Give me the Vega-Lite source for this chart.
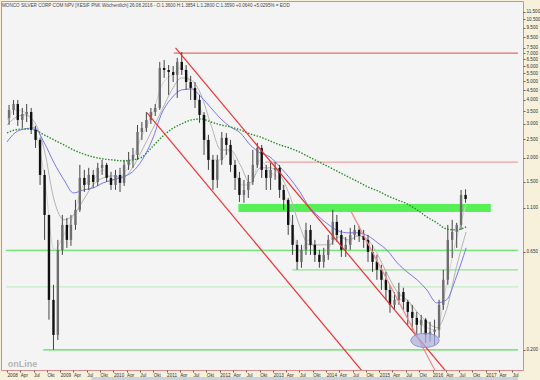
{
  "$schema": "https://vega.github.io/schema/vega-lite/v6.json",
  "width": 522,
  "height": 369,
  "autosize": {"type": "none"},
  "padding": {"left": 1, "top": 1, "right": 17, "bottom": 10},
  "background": "#f7f0da",
  "config": {
    "view": {"fill": "#f4f4f4", "stroke": "#d98a8a", "strokeWidth": 1},
    "font": "Liberation Sans",
    "axis": {"grid": false, "domain": false, "zindex": 1, "labelFont": "Liberation Sans", "labelFontSize": 4.6, "labelColor": "#333", "tickColor": "#666", "tickSize": 2, "labelPadding": 0.5, "titleFont": "Liberation Sans"}
  },
  "title": {"text": "MONCO SILVER CORP COM NPV [XESIF PNK Wöchentlich] 26.08.2016 - O:1.3600 H:1.3854 L:1.2800 C:1.3590 +0.0640 +5.0295% = EOD", "anchor": "start", "frame": "group", "orient": "top", "offset": -6.5, "fontSize": 4.6, "fontWeight": "normal", "color": "#444", "font": "Liberation Sans", "dx": 1},
  "datasets": {
    "band": [{"d1": "2012-05-08", "d2": "2017-02-04", "p1": 1.15, "p2": 1.045}],
    "strip": [{"d1": "2009-08-02", "d2": "2017-08-10", "p1": 0.1445, "p2": 0.1381}],
    "hl": [
      {"k": "r1", "d1": "2011-02-19", "d2": "2017-08-10", "p": 7.02},
      {"k": "r2", "d1": "2012-11-07", "d2": "2017-08-10", "p": 1.90},
      {"k": "g1", "d1": "2007-12-25", "d2": "2017-08-10", "p": 0.66},
      {"k": "g2", "d1": "2013-05-13", "d2": "2017-08-10", "p": 0.522},
      {"k": "g3", "d1": "2007-12-25", "d2": "2017-08-10", "p": 0.425},
      {"k": "g4", "d1": "2008-09-06", "d2": "2017-08-10", "p": 0.2}
    ],
    "tl": [
      {"k": "up", "d": "2011-03-03", "p": 7.46},
      {"k": "up", "d": "2016-06-19", "p": 0.1315},
      {"k": "lo", "d": "2010-08-20", "p": 3.424},
      {"k": "lo", "d": "2014-11-22", "p": 0.1315},
      {"k": "th", "d": "2014-06-22", "p": 1.045},
      {"k": "th", "d": "2016-03-10", "p": 0.1315}
    ],
    "ma": [
      {"d": "2008-01-01", "b": 2.418, "g": 2.694, "s": 2.964, "f": 3.147},
      {"d": "2008-02-24", "b": 2.694, "g": 2.792, "s": 3.225, "f": 3.548},
      {"d": "2008-04-30", "b": 2.825, "g": 2.825, "s": 3.342, "f": 3.46},
      {"d": "2008-07-07", "b": 2.86, "g": 2.792, "s": 3.07, "f": 2.86},
      {"d": "2008-09-13", "b": 2.39, "g": 2.63, "s": 2.197, "f": 1.628},
      {"d": "2008-11-19", "b": 1.881, "g": 2.477, "s": 1.207, "f": 0.663},
      {"d": "2009-01-26", "b": 1.534, "g": 2.333, "s": 0.95, "f": 0.793},
      {"d": "2009-04-02", "b": 1.312, "g": 2.197, "s": 1.008, "f": 1.008},
      {"d": "2009-06-09", "b": 1.36, "g": 2.094, "s": 1.207, "f": 1.444},
      {"d": "2009-08-15", "b": 1.393, "g": 2.019, "s": 1.444, "f": 1.534},
      {"d": "2009-10-22", "b": 1.48, "g": 1.973, "s": 1.571, "f": 1.729},
      {"d": "2009-12-28", "b": 1.534, "g": 1.949, "s": 1.609, "f": 1.534},
      {"d": "2010-03-04", "b": 1.589, "g": 1.926, "s": 1.571, "f": 1.628},
      {"d": "2010-05-11", "b": 1.688, "g": 1.949, "s": 1.772, "f": 1.949},
      {"d": "2010-07-17", "b": 1.949, "g": 2.019, "s": 2.197, "f": 2.63},
      {"d": "2010-09-24", "b": 2.477, "g": 2.277, "s": 2.792, "f": 3.342},
      {"d": "2010-11-30", "b": 3.424, "g": 2.567, "s": 3.548, "f": 4.79},
      {"d": "2011-02-06", "b": 4.1, "g": 2.825, "s": 4.51, "f": 5.4},
      {"d": "2011-04-13", "b": 4.51, "g": 3.0, "s": 5.21, "f": 5.87},
      {"d": "2011-06-19", "b": 4.565, "g": 3.147, "s": 5.08, "f": 4.79},
      {"d": "2011-08-26", "b": 4.148, "g": 3.185, "s": 4.25, "f": 3.548},
      {"d": "2011-11-02", "b": 3.635, "g": 3.07, "s": 2.964, "f": 1.949},
      {"d": "2012-01-09", "b": 3.185, "g": 2.964, "s": 2.197, "f": 1.949},
      {"d": "2012-03-15", "b": 2.893, "g": 2.893, "s": 2.197, "f": 2.197},
      {"d": "2012-05-21", "b": 2.694, "g": 2.792, "s": 1.836, "f": 1.444},
      {"d": "2012-07-28", "b": 2.333, "g": 2.662, "s": 1.48, "f": 1.444},
      {"d": "2012-10-04", "b": 2.12, "g": 2.567, "s": 1.772, "f": 1.949},
      {"d": "2012-12-11", "b": 2.019, "g": 2.447, "s": 1.772, "f": 1.688},
      {"d": "2013-02-17", "b": 1.792, "g": 2.333, "s": 1.628, "f": 1.534},
      {"d": "2013-04-24", "b": 1.571, "g": 2.25, "s": 1.281, "f": 1.008},
      {"d": "2013-06-30", "b": 1.344, "g": 2.144, "s": 0.894, "f": 0.647},
      {"d": "2013-09-06", "b": 1.11, "g": 2.019, "s": 0.704, "f": 0.747},
      {"d": "2013-11-13", "b": 0.984, "g": 1.902, "s": 0.704, "f": 0.624},
      {"d": "2014-01-19", "b": 0.894, "g": 1.792, "s": 0.704, "f": 0.679},
      {"d": "2014-03-26", "b": 0.832, "g": 1.688, "s": 0.774, "f": 0.822},
      {"d": "2014-06-02", "b": 0.813, "g": 1.589, "s": 0.747, "f": 0.729},
      {"d": "2014-08-09", "b": 0.813, "g": 1.497, "s": 0.784, "f": 0.793},
      {"d": "2014-10-15", "b": 0.784, "g": 1.409, "s": 0.747, "f": 0.704},
      {"d": "2014-12-21", "b": 0.721, "g": 1.344, "s": 0.624, "f": 0.554},
      {"d": "2015-02-27", "b": 0.655, "g": 1.266, "s": 0.491, "f": 0.41},
      {"d": "2015-05-04", "b": 0.567, "g": 1.207, "s": 0.4, "f": 0.364},
      {"d": "2015-07-10", "b": 0.509, "g": 1.151, "s": 0.364, "f": 0.364},
      {"d": "2015-09-17", "b": 0.463, "g": 1.071, "s": 0.315, "f": 0.287},
      {"d": "2015-11-23", "b": 0.41, "g": 0.984, "s": 0.28, "f": 0.261},
      {"d": "2016-01-30", "b": 0.351, "g": 0.917, "s": 0.261, "f": 0.254},
      {"d": "2016-04-06", "b": 0.364, "g": 0.852, "s": 0.323, "f": 0.436},
      {"d": "2016-06-12", "b": 0.479, "g": 0.842, "s": 0.535, "f": 0.747},
      {"d": "2016-08-19", "b": 0.679, "g": 0.873, "s": 0.822, "f": 1.137}
    ],
    "cd": [
      {"d": "2008-01-15", "o": 3.225, "h": 3.767, "l": 2.964, "c": 3.548},
      {"d": "2008-02-15", "o": 3.548, "h": 4.0, "l": 3.342, "c": 3.81},
      {"d": "2008-03-15", "o": 3.81, "h": 4.0, "l": 2.93, "c": 3.147},
      {"d": "2008-04-15", "o": 3.147, "h": 3.635, "l": 2.86, "c": 3.38},
      {"d": "2008-05-15", "o": 3.38, "h": 3.81, "l": 3.07, "c": 3.46},
      {"d": "2008-06-15", "o": 3.46, "h": 3.635, "l": 2.66, "c": 2.792},
      {"d": "2008-07-15", "o": 2.792, "h": 2.93, "l": 2.25, "c": 2.477},
      {"d": "2008-08-15", "o": 2.477, "h": 2.54, "l": 1.444, "c": 1.628},
      {"d": "2008-09-15", "o": 1.628, "h": 1.729, "l": 0.747, "c": 1.008},
      {"d": "2008-10-15", "o": 1.008, "h": 1.008, "l": 0.287, "c": 0.364},
      {"d": "2008-11-15", "o": 0.364, "h": 0.436, "l": 0.2, "c": 0.239},
      {"d": "2008-12-15", "o": 0.239, "h": 0.747, "l": 0.225, "c": 0.663},
      {"d": "2009-01-15", "o": 0.663, "h": 1.008, "l": 0.624, "c": 0.894},
      {"d": "2009-02-15", "o": 0.894, "h": 0.973, "l": 0.679, "c": 0.747},
      {"d": "2009-03-15", "o": 0.747, "h": 1.008, "l": 0.696, "c": 0.894},
      {"d": "2009-04-15", "o": 0.894, "h": 1.207, "l": 0.842, "c": 1.071},
      {"d": "2009-05-15", "o": 1.071, "h": 1.836, "l": 1.045, "c": 1.571},
      {"d": "2009-06-15", "o": 1.571, "h": 1.729, "l": 1.327, "c": 1.444},
      {"d": "2009-07-15", "o": 1.444, "h": 1.772, "l": 1.36, "c": 1.628},
      {"d": "2009-08-15", "o": 1.628, "h": 1.729, "l": 1.393, "c": 1.497},
      {"d": "2009-09-15", "o": 1.497, "h": 1.881, "l": 1.427, "c": 1.772},
      {"d": "2009-10-15", "o": 1.772, "h": 1.949, "l": 1.628, "c": 1.836},
      {"d": "2009-11-15", "o": 1.836, "h": 1.881, "l": 1.497, "c": 1.571},
      {"d": "2009-12-15", "o": 1.571, "h": 1.688, "l": 1.36, "c": 1.444},
      {"d": "2010-01-15", "o": 1.444, "h": 1.729, "l": 1.36, "c": 1.628},
      {"d": "2010-02-15", "o": 1.628, "h": 1.772, "l": 1.327, "c": 1.48},
      {"d": "2010-03-15", "o": 1.48, "h": 1.949, "l": 1.427, "c": 1.836},
      {"d": "2010-04-15", "o": 1.836, "h": 2.144, "l": 1.729, "c": 1.949},
      {"d": "2010-05-15", "o": 1.949, "h": 2.25, "l": 1.772, "c": 2.069},
      {"d": "2010-06-15", "o": 2.069, "h": 2.964, "l": 1.949, "c": 2.725},
      {"d": "2010-07-15", "o": 2.725, "h": 3.07, "l": 2.477, "c": 2.86},
      {"d": "2010-08-15", "o": 2.86, "h": 3.46, "l": 2.725, "c": 3.147},
      {"d": "2010-09-15", "o": 3.147, "h": 3.635, "l": 3.0, "c": 3.46},
      {"d": "2010-10-15", "o": 3.46, "h": 3.81, "l": 3.3, "c": 3.635},
      {"d": "2010-11-15", "o": 3.635, "h": 6.31, "l": 3.548, "c": 5.87},
      {"d": "2010-12-15", "o": 5.87, "h": 6.46, "l": 5.21, "c": 5.73},
      {"d": "2011-01-15", "o": 5.73, "h": 6.08, "l": 4.25, "c": 5.59},
      {"d": "2011-02-15", "o": 5.59, "h": 6.01, "l": 4.96, "c": 5.4},
      {"d": "2011-03-15", "o": 5.4, "h": 6.62, "l": 4.1, "c": 6.31},
      {"d": "2011-04-15", "o": 6.31, "h": 7.11, "l": 5.4, "c": 5.73},
      {"d": "2011-05-15", "o": 5.73, "h": 6.08, "l": 4.51, "c": 4.96},
      {"d": "2011-06-15", "o": 4.96, "h": 5.34, "l": 4.0, "c": 4.62},
      {"d": "2011-07-15", "o": 4.62, "h": 4.96, "l": 3.635, "c": 4.0},
      {"d": "2011-08-15", "o": 4.0, "h": 4.25, "l": 3.04, "c": 3.342},
      {"d": "2011-09-15", "o": 3.342, "h": 3.46, "l": 2.069, "c": 2.477},
      {"d": "2011-10-15", "o": 2.477, "h": 2.63, "l": 1.729, "c": 1.949},
      {"d": "2011-11-15", "o": 1.949, "h": 2.069, "l": 1.36, "c": 1.534},
      {"d": "2011-12-15", "o": 1.534, "h": 2.069, "l": 1.393, "c": 1.949},
      {"d": "2012-01-15", "o": 1.949, "h": 2.725, "l": 1.836, "c": 2.54},
      {"d": "2012-02-15", "o": 2.54, "h": 2.69, "l": 2.069, "c": 2.333},
      {"d": "2012-03-15", "o": 2.333, "h": 2.477, "l": 1.688, "c": 1.836},
      {"d": "2012-04-15", "o": 1.836, "h": 1.949, "l": 1.36, "c": 1.571},
      {"d": "2012-05-15", "o": 1.571, "h": 1.688, "l": 1.178, "c": 1.281},
      {"d": "2012-06-15", "o": 1.281, "h": 1.534, "l": 1.165, "c": 1.36},
      {"d": "2012-07-15", "o": 1.36, "h": 1.628, "l": 1.236, "c": 1.497},
      {"d": "2012-08-15", "o": 1.497, "h": 2.197, "l": 1.444, "c": 1.836},
      {"d": "2012-09-15", "o": 1.836, "h": 2.39, "l": 1.772, "c": 2.25},
      {"d": "2012-10-15", "o": 2.25, "h": 2.333, "l": 1.571, "c": 1.729},
      {"d": "2012-11-15", "o": 1.729, "h": 1.836, "l": 1.36, "c": 1.571},
      {"d": "2012-12-15", "o": 1.571, "h": 1.881, "l": 1.36, "c": 1.729},
      {"d": "2013-01-15", "o": 1.729, "h": 1.902, "l": 1.534, "c": 1.772},
      {"d": "2013-02-15", "o": 1.772, "h": 1.836, "l": 1.236, "c": 1.36},
      {"d": "2013-03-15", "o": 1.36, "h": 1.444, "l": 1.071, "c": 1.207},
      {"d": "2013-04-15", "o": 1.207, "h": 1.236, "l": 0.793, "c": 0.894},
      {"d": "2013-05-15", "o": 0.894, "h": 1.008, "l": 0.624, "c": 0.704},
      {"d": "2013-06-15", "o": 0.704, "h": 0.747, "l": 0.522, "c": 0.574},
      {"d": "2013-07-15", "o": 0.574, "h": 0.704, "l": 0.535, "c": 0.663},
      {"d": "2013-08-15", "o": 0.663, "h": 0.917, "l": 0.624, "c": 0.842},
      {"d": "2013-09-15", "o": 0.842, "h": 0.894, "l": 0.624, "c": 0.704},
      {"d": "2013-10-15", "o": 0.704, "h": 0.747, "l": 0.574, "c": 0.624},
      {"d": "2013-11-15", "o": 0.624, "h": 0.663, "l": 0.535, "c": 0.574},
      {"d": "2013-12-15", "o": 0.574, "h": 0.679, "l": 0.535, "c": 0.624},
      {"d": "2014-01-15", "o": 0.624, "h": 0.793, "l": 0.588, "c": 0.747},
      {"d": "2014-02-15", "o": 0.747, "h": 1.071, "l": 0.704, "c": 0.927},
      {"d": "2014-03-15", "o": 0.927, "h": 1.008, "l": 0.729, "c": 0.793},
      {"d": "2014-04-15", "o": 0.793, "h": 0.842, "l": 0.609, "c": 0.663},
      {"d": "2014-05-15", "o": 0.663, "h": 0.774, "l": 0.609, "c": 0.704},
      {"d": "2014-06-15", "o": 0.704, "h": 0.863, "l": 0.663, "c": 0.793},
      {"d": "2014-07-15", "o": 0.793, "h": 0.894, "l": 0.747, "c": 0.842},
      {"d": "2014-08-15", "o": 0.842, "h": 0.883, "l": 0.729, "c": 0.784},
      {"d": "2014-09-15", "o": 0.784, "h": 0.842, "l": 0.679, "c": 0.747},
      {"d": "2014-10-15", "o": 0.747, "h": 0.793, "l": 0.574, "c": 0.647},
      {"d": "2014-11-15", "o": 0.647, "h": 0.704, "l": 0.509, "c": 0.574},
      {"d": "2014-12-15", "o": 0.574, "h": 0.624, "l": 0.463, "c": 0.522},
      {"d": "2015-01-15", "o": 0.522, "h": 0.554, "l": 0.41, "c": 0.463},
      {"d": "2015-02-15", "o": 0.463, "h": 0.509, "l": 0.364, "c": 0.41},
      {"d": "2015-03-15", "o": 0.41, "h": 0.436, "l": 0.312, "c": 0.343},
      {"d": "2015-04-15", "o": 0.343, "h": 0.4, "l": 0.323, "c": 0.364},
      {"d": "2015-05-15", "o": 0.364, "h": 0.447, "l": 0.343, "c": 0.4},
      {"d": "2015-06-15", "o": 0.4, "h": 0.421, "l": 0.323, "c": 0.355},
      {"d": "2015-07-15", "o": 0.355, "h": 0.364, "l": 0.27, "c": 0.315},
      {"d": "2015-08-15", "o": 0.315, "h": 0.343, "l": 0.254, "c": 0.293},
      {"d": "2015-09-15", "o": 0.293, "h": 0.315, "l": 0.233, "c": 0.27},
      {"d": "2015-10-15", "o": 0.27, "h": 0.304, "l": 0.245, "c": 0.287},
      {"d": "2015-11-15", "o": 0.287, "h": 0.293, "l": 0.217, "c": 0.239},
      {"d": "2015-12-15", "o": 0.239, "h": 0.28, "l": 0.22, "c": 0.248},
      {"d": "2016-01-15", "o": 0.248, "h": 0.287, "l": 0.212, "c": 0.254},
      {"d": "2016-02-15", "o": 0.254, "h": 0.364, "l": 0.231, "c": 0.343},
      {"d": "2016-03-15", "o": 0.343, "h": 0.522, "l": 0.323, "c": 0.463},
      {"d": "2016-04-15", "o": 0.463, "h": 0.894, "l": 0.436, "c": 0.747},
      {"d": "2016-05-15", "o": 0.747, "h": 0.95, "l": 0.602, "c": 0.822},
      {"d": "2016-06-15", "o": 0.822, "h": 0.917, "l": 0.679, "c": 0.894},
      {"d": "2016-07-15", "o": 0.894, "h": 1.36, "l": 0.842, "c": 1.281},
      {"d": "2016-08-15", "o": 1.281, "h": 1.37, "l": 1.165, "c": 1.22}
    ],
    "el": [{"d": "2015-11-10", "p": 0.224}],
    "logo": [{"d": "2008-01-06", "p": 0.1625, "t": "onLine"}]
  },
  "resolve": {"scale": {"color": "independent"}},
  "layer": [
    {
      "data": {"name": "band"},
      "mark": {"type": "rect", "color": "#55f055"},
      "encoding": {
        "x": {"field": "d1", "type": "temporal", "title": null,
              "scale": {"domain": [{"year": 2007, "month": 12, "date": 25}, {"year": 2017, "month": 8, "date": 10}], "nice": false},
              "axis": {"orient": "bottom", "tickCount": {"interval": "month", "step": 3}, "labelAlign": "left", "labelBaseline": "top", "labelOverlap": false, "labelBound": false, "labelFlush": false,
                       "labelExpr": "month(datum.value)==0 ? timeFormat(datum.value,'%Y') : (month(datum.value)==3 ? 'Apr' : (month(datum.value)==6 ? 'Jul' : 'Okt'))"}},
        "x2": {"field": "d2"},
        "y": {"field": "p1", "type": "quantitative", "title": null,
              "scale": {"type": "log", "domain": [0.157, 13.1], "nice": false},
              "axis": {"orient": "right", "values": [0.2, 0.65, 1.1, 1.5, 2, 2.5, 3, 3.5, 4, 4.5, 5, 5.5, 6, 6.5, 7, 7.5, 8.5, 9.5, 10.5, 11.5], "format": ".3f", "labelAlign": "left", "labelBaseline": "middle", "labelOverlap": false, "labelBound": false, "labelFlush": false, "labelPadding": 1,
                       "title": "USD", "titleAngle": 0, "titleAlign": "left", "titleBaseline": "top", "titleX": 2, "titleY": 1, "titleFontSize": 4.6, "titleFontWeight": "normal", "titleColor": "#333"}},
        "y2": {"field": "p2"}
      }
    },
    {
      "data": {"name": "strip"},
      "mark": {"type": "rect", "color": "#c9d3dd"},
      "encoding": {
        "x": {"field": "d1", "type": "temporal", "title": null},
        "x2": {"field": "d2"},
        "y": {"field": "p1", "type": "quantitative", "title": null},
        "y2": {"field": "p2"}
      }
    },
    {
      "data": {"name": "hl"},
      "mark": {"type": "rule", "strokeWidth": 1.2},
      "encoding": {
        "x": {"field": "d1", "type": "temporal", "title": null},
        "x2": {"field": "d2"},
        "y": {"field": "p", "type": "quantitative", "title": null},
        "color": {"field": "k", "type": "nominal", "legend": null,
                  "scale": {"domain": ["r1", "r2", "g1", "g2", "g3", "g4"], "range": ["#e86a6a", "#f2a0a0", "#44e444", "#92e492", "#c6ecc6", "#58dc58"]}}
      }
    },
    {
      "data": {"name": "ma"},
      "mark": {"type": "line", "color": "#d2d2d2", "strokeWidth": 1, "interpolate": "monotone"},
      "encoding": {"x": {"field": "d", "type": "temporal", "title": null}, "y": {"field": "f", "type": "quantitative", "title": null}}
    },
    {
      "data": {"name": "ma"},
      "mark": {"type": "line", "color": "#b4b4b4", "strokeWidth": 1, "interpolate": "monotone"},
      "encoding": {"x": {"field": "d", "type": "temporal", "title": null}, "y": {"field": "s", "type": "quantitative", "title": null}}
    },
    {
      "data": {"name": "ma"},
      "mark": {"type": "line", "color": "#7878ee", "strokeWidth": 1, "interpolate": "monotone"},
      "encoding": {"x": {"field": "d", "type": "temporal", "title": null}, "y": {"field": "b", "type": "quantitative", "title": null}}
    },
    {
      "data": {"name": "ma"},
      "mark": {"type": "line", "color": "#2f8f2f", "strokeWidth": 1.4, "strokeDash": [1.5, 1.5], "interpolate": "monotone"},
      "encoding": {"x": {"field": "d", "type": "temporal", "title": null}, "y": {"field": "g", "type": "quantitative", "title": null}}
    },
    {
      "data": {"name": "cd"},
      "mark": {"type": "rule", "color": "#444", "strokeWidth": 1},
      "encoding": {"x": {"field": "d", "type": "temporal", "title": null}, "y": {"field": "l", "type": "quantitative", "title": null}, "y2": {"field": "h"}}
    },
    {
      "data": {"name": "cd"},
      "mark": {"type": "bar", "width": 2.4},
      "encoding": {
        "x": {"field": "d", "type": "temporal", "title": null},
        "y": {"field": "o", "type": "quantitative", "title": null},
        "y2": {"field": "c"},
        "color": {"condition": {"test": "datum.c < datum.o", "value": "#111111"}, "value": "#6e6e6e"}
      }
    },
    {
      "data": {"name": "tl"},
      "mark": {"type": "line", "strokeWidth": 1.2, "clip": true},
      "encoding": {
        "x": {"field": "d", "type": "temporal", "title": null},
        "y": {"field": "p", "type": "quantitative", "title": null},
        "detail": {"field": "k"},
        "color": {"field": "k", "type": "nominal", "legend": null,
                  "scale": {"domain": ["up", "lo", "th"], "range": ["#ee3030", "#ee3030", "#f08a8a"]}}
      }
    },
    {
      "data": {"name": "el"},
      "mark": {"type": "point", "shape": "M-1,0 A1,0.5 0 1,1 1,0 A1,0.5 0 1,1 -1,0 Z", "size": 800, "filled": true, "fill": "#a9addf", "fillOpacity": 0.7, "stroke": "#7d84c8", "strokeWidth": 0.8, "strokeOpacity": 1},
      "encoding": {"x": {"field": "d", "type": "temporal", "title": null}, "y": {"field": "p", "type": "quantitative", "title": null}}
    },
    {
      "data": {"name": "logo"},
      "mark": {"type": "text", "align": "left", "baseline": "alphabetic", "fontSize": 9, "fontWeight": "bold", "color": "#b4b4b4", "font": "Liberation Sans"},
      "encoding": {"x": {"field": "d", "type": "temporal", "title": null}, "y": {"field": "p", "type": "quantitative", "title": null}, "text": {"field": "t"}}
    }
  ]
}
